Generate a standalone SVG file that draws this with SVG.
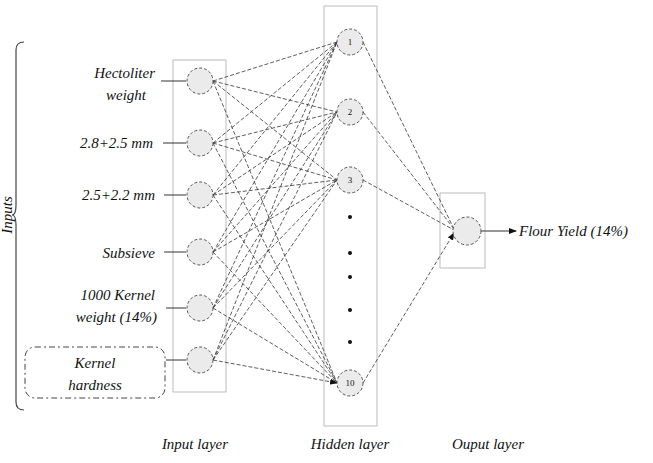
<svg xmlns="http://www.w3.org/2000/svg" width="653" height="463" viewBox="0 0 653 463">
<style>
text{font-family:"Liberation Serif",serif;font-style:italic;font-size:15px;fill:#111}
.n{fill:#ebebeb;stroke:#555;stroke-width:1;stroke-dasharray:3,2}
.box{fill:none;stroke:#bbb;stroke-width:1}
.c{stroke:#333;stroke-width:0.8;stroke-dasharray:4,2;fill:none;marker-end:url(#a)}
.s{stroke:#333;stroke-width:1;fill:none;marker-end:url(#a)}
.num{font-size:9px;font-style:normal;text-anchor:middle}
</style>
<defs><marker id="a" markerWidth="8" markerHeight="6" refX="7" refY="3" orient="auto" markerUnits="userSpaceOnUse"><path d="M0,0L8,3L0,6z" fill="#111"/></marker></defs>
<rect width="653" height="463" fill="#fff"/>
<g id="frames">
<rect class="box" x="173" y="60" width="53" height="332"/>
<rect class="box" x="324" y="6" width="53" height="420"/>
<rect class="box" x="440" y="193" width="45" height="75"/>
<path d="M24,42 Q16,42 16,50 L16,205 Q16,215 12,215 Q16,215 16,225 L16,402 Q16,410 24,410" fill="none" stroke="#444" stroke-width="1.2"/>
<text transform="translate(12,215) rotate(-90)" text-anchor="middle" font-size="12">Inputs</text>
</g>
<g id="connectors">
<path class="s" d="M161,81H186M163,143H186M164,195H186M164,252H186M166,308H186M166,360H186M481,231H516"/>
<path class="c" d="M213,81L337,42M213,81L337,112M213,81L337,180M213,81L337,383M213,143L337,42M213,143L337,112M213,143L337,180M213,143L337,383M213,195L337,42M213,195L337,112M213,195L337,180M213,195L337,383M213,252L337,42M213,252L337,112M213,252L337,180M213,252L337,383M213,308L337,42M213,308L337,112M213,308L337,180M213,308L337,383M213,360L337,42M213,360L337,112M213,360L337,180M213,360L337,383"/>
<path class="c" d="M363,42L454,229M363,112L454,229M363,180L454,230M363,383L454,233"/>
</g>
<g id="inputs">
<circle class="n" cx="200" cy="81" r="13"/><circle class="n" cx="200" cy="143" r="13"/><circle class="n" cx="200" cy="195" r="13"/><circle class="n" cx="200" cy="252" r="13"/><circle class="n" cx="200" cy="308" r="13"/><circle class="n" cx="200" cy="360" r="13"/>
<text x="155" y="78" text-anchor="end">Hectoliter</text><text x="126" y="100" text-anchor="middle">weight</text>
<text x="153" y="148" text-anchor="end">2.8+2.5 mm</text>
<text x="155" y="200" text-anchor="end">2.5+2.2 mm</text>
<text x="155" y="258" text-anchor="end">Subsieve</text>
<text x="155" y="300" text-anchor="end">1000 Kernel</text><text x="157" y="322" text-anchor="end">weight (14%)</text>
<rect x="25" y="347" width="140" height="51" rx="10" fill="none" stroke="#444" stroke-dasharray="6,3,2,3"/>
<text x="95" y="368" text-anchor="middle">Kernel</text><text x="95" y="390" text-anchor="middle">hardness</text>
</g>
<g id="hidden">
<circle class="n" cx="350" cy="42" r="13"/><text class="num" x="350" y="45">1</text>
<circle class="n" cx="350" cy="112" r="13"/><text class="num" x="350" y="115">2</text>
<circle class="n" cx="350" cy="180" r="13"/><text class="num" x="350" y="183">3</text>
<circle class="n" cx="350" cy="383" r="13"/><text class="num" x="350" y="386">10</text>
<g fill="#111"><circle cx="350" cy="217" r="2"/><circle cx="350" cy="253" r="2"/><circle cx="350" cy="277" r="2"/><circle cx="350" cy="310" r="2"/><circle cx="350" cy="342" r="2"/></g>
</g>
<g id="output">
<circle class="n" cx="467" cy="231" r="14"/>
<text x="519" y="236">Flour Yield (14%)</text>
</g>
<g id="labels">
<text x="195" y="449" text-anchor="middle">Input layer</text>
<text x="350" y="449" text-anchor="middle">Hidden layer</text>
<text x="488" y="449" text-anchor="middle">Ouput layer</text>
</g>
</svg>
